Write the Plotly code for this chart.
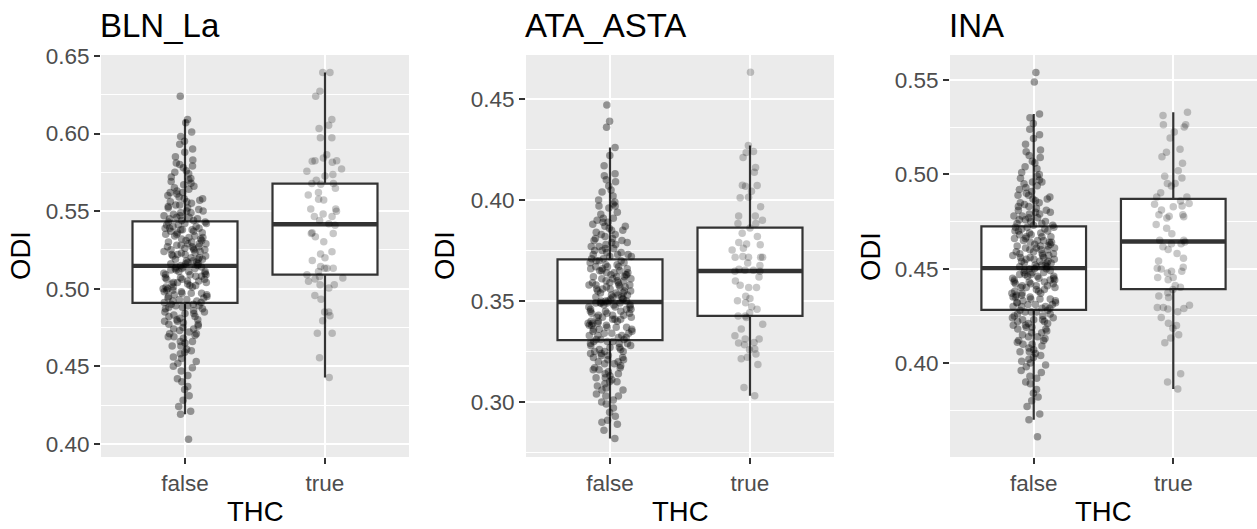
import plotly.graph_objects as go

# ---------------------------------------------------------------- data
PANELS = ["BLN_La", "ATA_ASTA", "INA"]
CATEGORIES = ["false", "true"]
X_TITLE = "THC"
Y_TITLE = "ODI"

BLN_FALSE = [
    0.403, 0.419, 0.421, 0.424, 0.428, 0.431, 0.435, 0.437,
    0.440, 0.442, 0.444, 0.447, 0.449,
    0.450, 0.452, 0.453, 0.455, 0.456, 0.458, 0.459,
    0.460, 0.461, 0.463, 0.463, 0.465, 0.466, 0.466, 0.468, 0.469, 0.469,
    0.470, 0.471, 0.471, 0.472, 0.473, 0.474, 0.474, 0.475, 0.476, 0.477,
    0.477, 0.478, 0.479, 0.479,
    0.480, 0.480, 0.481, 0.482, 0.482, 0.483, 0.484, 0.484, 0.485, 0.485,
    0.486, 0.487, 0.487, 0.488, 0.488, 0.489, 0.489, 0.489,
    0.490, 0.490, 0.491, 0.491, 0.492, 0.492, 0.493, 0.493, 0.494, 0.494,
    0.495, 0.495, 0.496, 0.496, 0.497, 0.497, 0.497, 0.498, 0.498, 0.499, 0.499,
    0.500, 0.500, 0.501, 0.501, 0.501, 0.502, 0.502, 0.503, 0.503, 0.504,
    0.504, 0.504, 0.505, 0.505, 0.506, 0.506, 0.506, 0.507, 0.507, 0.508,
    0.508, 0.509, 0.509, 0.509,
    0.510, 0.510, 0.511, 0.511, 0.511, 0.512, 0.512, 0.513, 0.513, 0.513,
    0.514, 0.514, 0.514, 0.515, 0.515, 0.516, 0.516, 0.516, 0.517, 0.517,
    0.518, 0.518, 0.519, 0.519, 0.519,
    0.520, 0.520, 0.521, 0.521, 0.522, 0.522, 0.522, 0.523, 0.523, 0.524,
    0.524, 0.525, 0.525, 0.525, 0.526, 0.526, 0.527, 0.527, 0.527, 0.528,
    0.528, 0.529, 0.529, 0.529,
    0.530, 0.530, 0.531, 0.531, 0.532, 0.532, 0.533, 0.533, 0.534, 0.534,
    0.535, 0.535, 0.536, 0.536, 0.537, 0.537, 0.538, 0.538, 0.538, 0.539,
    0.539, 0.539,
    0.540, 0.540, 0.541, 0.541, 0.542, 0.542, 0.543, 0.543, 0.544, 0.544,
    0.545, 0.545, 0.546, 0.546, 0.547, 0.547, 0.548, 0.549, 0.549,
    0.550, 0.550, 0.551, 0.552, 0.552, 0.553, 0.554, 0.554, 0.555, 0.556,
    0.556, 0.557, 0.558, 0.558, 0.559,
    0.560, 0.561, 0.562, 0.562, 0.563, 0.564, 0.565, 0.566, 0.567, 0.568, 0.569,
    0.570, 0.571, 0.572, 0.574, 0.575, 0.576, 0.578, 0.579,
    0.580, 0.581, 0.583, 0.585, 0.588,
    0.590, 0.593, 0.595, 0.598,
    0.601, 0.607, 0.609, 0.624,
]
BLN_TRUE = [
    0.6393, 0.6393, 0.6272, 0.6240, 0.6090, 0.6054, 0.6033, 0.5973, 0.5973,
    0.5863, 0.5842, 0.5825, 0.5825, 0.5821, 0.5815, 0.5772, 0.5757, 0.5736,
    0.5726, 0.5698, 0.5677, 0.5677, 0.5673, 0.5647, 0.5620, 0.5603, 0.5577,
    0.5571, 0.5514, 0.5514, 0.5499, 0.5482, 0.5465, 0.5465, 0.5440, 0.5418,
    0.5408, 0.5361, 0.5355, 0.5355, 0.5334, 0.5302, 0.5238, 0.5223, 0.5200,
    0.5181, 0.5143, 0.5132, 0.5132, 0.5132, 0.5111, 0.5090, 0.5079, 0.5069,
    0.5062, 0.5047, 0.5026, 0.5026, 0.5005, 0.4956, 0.4931, 0.4850, 0.4850,
    0.4825, 0.4793, 0.4713, 0.4713, 0.4554, 0.4427,
]

ATA_FALSE = [
    0.282, 0.286, 0.289,
    0.290, 0.291, 0.293, 0.295, 0.297, 0.299,
    0.300, 0.301, 0.303, 0.303, 0.304, 0.306, 0.306, 0.307, 0.308, 0.309,
    0.310, 0.310, 0.311, 0.312, 0.312, 0.313, 0.314, 0.314, 0.315, 0.316,
    0.316, 0.317, 0.317, 0.318, 0.319, 0.319,
    0.320, 0.320, 0.321, 0.321, 0.322, 0.322, 0.323, 0.323, 0.324, 0.324,
    0.325, 0.325, 0.325, 0.326, 0.326, 0.327, 0.327, 0.328, 0.328, 0.329,
    0.329, 0.329,
    0.330, 0.330, 0.330, 0.331, 0.331, 0.331, 0.332, 0.332, 0.333, 0.333,
    0.333, 0.334, 0.334, 0.334, 0.335, 0.335, 0.336, 0.336, 0.336, 0.337,
    0.337, 0.337, 0.338, 0.338, 0.338, 0.339, 0.339, 0.339,
    0.340, 0.340, 0.340, 0.341, 0.341, 0.341, 0.342, 0.342, 0.342, 0.343,
    0.343, 0.343, 0.344, 0.344, 0.344, 0.345, 0.345, 0.345, 0.346, 0.346,
    0.346, 0.347, 0.347, 0.347, 0.348, 0.348, 0.348, 0.349, 0.349, 0.349,
    0.349, 0.349,
    0.350, 0.350, 0.350, 0.350, 0.351, 0.351, 0.351, 0.352, 0.352, 0.352,
    0.353, 0.353, 0.353, 0.354, 0.354, 0.354, 0.355, 0.355, 0.355, 0.356,
    0.356, 0.356, 0.357, 0.357, 0.357, 0.358, 0.358, 0.358, 0.358, 0.359,
    0.359, 0.359,
    0.360, 0.360, 0.360, 0.361, 0.361, 0.361, 0.362, 0.362, 0.362, 0.363,
    0.363, 0.363, 0.364, 0.364, 0.364, 0.365, 0.365, 0.365, 0.366, 0.366,
    0.366, 0.367, 0.367, 0.367, 0.368, 0.368, 0.369, 0.369,
    0.370, 0.370, 0.370, 0.371, 0.371, 0.372, 0.372, 0.373, 0.373, 0.373,
    0.374, 0.374, 0.375, 0.375, 0.376, 0.376, 0.377, 0.377, 0.378, 0.378,
    0.379, 0.379,
    0.380, 0.380, 0.381, 0.381, 0.382, 0.383, 0.383, 0.384, 0.385, 0.385,
    0.386, 0.387, 0.387, 0.388, 0.389, 0.389,
    0.390, 0.391, 0.391, 0.393, 0.394, 0.396, 0.397, 0.397, 0.398, 0.399,
    0.400, 0.402, 0.404, 0.405, 0.407, 0.409,
    0.410, 0.412, 0.413, 0.417, 0.422, 0.426,
    0.436, 0.439, 0.447,
]
ATA_TRUE = [
    0.4632, 0.4270, 0.4240, 0.4235, 0.4210, 0.4161, 0.4137, 0.4073, 0.4072,
    0.4068, 0.4044, 0.4014, 0.4011, 0.3967, 0.3921, 0.3921, 0.3900, 0.3884,
    0.3884, 0.3861, 0.3836, 0.3820, 0.3790, 0.3782, 0.3779, 0.3761, 0.3753,
    0.3721, 0.3717, 0.3717, 0.3717, 0.3717, 0.3688, 0.3676, 0.3657, 0.3652,
    0.3647, 0.3652, 0.3647, 0.3619, 0.3599, 0.3578, 0.3567, 0.3567, 0.3524,
    0.3513, 0.3501, 0.3491, 0.3472, 0.3460, 0.3442, 0.3426, 0.3418, 0.3426,
    0.3385, 0.3362, 0.3328, 0.3312, 0.3312, 0.3295, 0.3292, 0.3284, 0.3263,
    0.3259, 0.3238, 0.3222, 0.3214, 0.3186, 0.3072, 0.3031,
]

INA_FALSE = [
    0.361, 0.370, 0.373, 0.377,
    0.380, 0.382, 0.384, 0.386, 0.389,
    0.390, 0.392, 0.393, 0.395, 0.396, 0.398, 0.399,
    0.400, 0.401, 0.402, 0.403, 0.404, 0.405, 0.406, 0.406, 0.407, 0.408, 0.409,
    0.410, 0.410, 0.411, 0.412, 0.412, 0.413, 0.414, 0.414, 0.415, 0.416,
    0.416, 0.417, 0.418, 0.418, 0.419, 0.419,
    0.420, 0.420, 0.421, 0.421, 0.422, 0.422, 0.423, 0.423, 0.423, 0.424,
    0.424, 0.425, 0.425, 0.426, 0.426, 0.427, 0.427, 0.427, 0.428, 0.428,
    0.429, 0.429,
    0.430, 0.430, 0.430, 0.431, 0.431, 0.431, 0.432, 0.432, 0.432, 0.433,
    0.433, 0.434, 0.434, 0.434, 0.435, 0.435, 0.435, 0.436, 0.436, 0.437,
    0.437, 0.437, 0.438, 0.438, 0.439, 0.439,
    0.440, 0.440, 0.440, 0.441, 0.441, 0.441, 0.442, 0.442, 0.442, 0.443,
    0.443, 0.443, 0.444, 0.444, 0.444, 0.445, 0.445, 0.445, 0.446, 0.446,
    0.446, 0.447, 0.447, 0.447, 0.448, 0.448, 0.448, 0.449, 0.449,
    0.450, 0.450, 0.450, 0.451, 0.451, 0.451, 0.452, 0.452, 0.452, 0.453,
    0.453, 0.453, 0.454, 0.454, 0.454, 0.455, 0.455, 0.455, 0.456, 0.456,
    0.456, 0.457, 0.457, 0.457, 0.458, 0.458, 0.458, 0.459, 0.459,
    0.460, 0.460, 0.460, 0.461, 0.461, 0.461, 0.462, 0.462, 0.462, 0.463,
    0.463, 0.464, 0.464, 0.464, 0.465, 0.465, 0.465, 0.466, 0.466, 0.467,
    0.467, 0.467, 0.468, 0.468, 0.469, 0.469,
    0.470, 0.470, 0.470, 0.471, 0.471, 0.472, 0.472, 0.472, 0.473, 0.473,
    0.474, 0.474, 0.475, 0.475, 0.476, 0.476, 0.477, 0.477, 0.478, 0.478,
    0.479, 0.479,
    0.480, 0.480, 0.481, 0.481, 0.482, 0.483, 0.483, 0.484, 0.485, 0.485,
    0.486, 0.487, 0.487, 0.488, 0.489, 0.489,
    0.490, 0.491, 0.492, 0.493, 0.494, 0.495, 0.496, 0.496, 0.497, 0.498, 0.499,
    0.500, 0.501, 0.503, 0.504, 0.506, 0.507, 0.509,
    0.510, 0.512, 0.513, 0.516, 0.519,
    0.521, 0.524, 0.527, 0.530, 0.532,
    0.549, 0.554,
]
INA_TRUE = [
    0.5330, 0.5312, 0.5263, 0.5263, 0.5251, 0.5225, 0.5193, 0.5134, 0.5117,
    0.5094, 0.5059, 0.5019, 0.4990, 0.4981, 0.4952, 0.4952, 0.4938, 0.4903,
    0.4880, 0.4880, 0.4859, 0.4846, 0.4842, 0.4833, 0.4828, 0.4811, 0.4786,
    0.4786, 0.4778, 0.4776, 0.4769, 0.4734, 0.4715, 0.4686, 0.4651, 0.4651,
    0.4642, 0.4633, 0.4633, 0.4616, 0.4602, 0.4581, 0.4555, 0.4541, 0.4508,
    0.4498, 0.4503, 0.4486, 0.4486, 0.4477, 0.4454, 0.4454, 0.4442, 0.4411,
    0.4402, 0.4390, 0.4373, 0.4347, 0.4355, 0.4306, 0.4294, 0.4294, 0.4286,
    0.4289, 0.4272, 0.4242, 0.4211, 0.4199, 0.4185, 0.4150, 0.4133, 0.4108,
    0.3943, 0.3900, 0.3863,
]

POINTS = [[BLN_FALSE, BLN_TRUE], [ATA_FALSE, ATA_TRUE], [INA_FALSE, INA_TRUE]]

# box statistics per panel, [false, true]
Q1 = [[0.4909, 0.5090], [0.3307, 0.3427], [0.4282, 0.4392]]
MEDIAN = [[0.5147, 0.5415], [0.3495, 0.3649], [0.4503, 0.4644]]
Q3 = [[0.5434, 0.5677], [0.3706, 0.3863], [0.4725, 0.4870]]
WHISKER_LO = [[0.419, 0.4427], [0.282, 0.3031], [0.370, 0.3863]]
WHISKER_HI = [[0.609, 0.6393], [0.426, 0.4270], [0.532, 0.5330]]

Y_RANGES = [[0.3915, 0.6506], [0.2728, 0.4718], [0.3502, 0.5633]]
Y_TICKS = [
    [0.40, 0.45, 0.50, 0.55, 0.60, 0.65],
    [0.30, 0.35, 0.40, 0.45],
    [0.40, 0.45, 0.50, 0.55],
]

# ---------------------------------------------------------------- style
W, H = 1257, 529
PANEL_X_PX = [(101, 409), (526, 834), (950, 1257)]
PANEL_TOP_PX, PANEL_BOTTOM_PX = 55, 457
FONT = "Liberation Sans, Arial, Helvetica, sans-serif"
PANEL_BG = "#EBEBEB"
BOX_LINE = "#333333"
TICK_TEXT = "#4D4D4D"
BOX_WIDTH = 0.75
JITTER = 0.42
POINT_SIZE = 7.5
POINT_ALPHA = [0.38, 0.22]


def px_x(p):
    return p / W


def px_y(p):
    return 1 - p / H


fig = go.Figure()
annotations = []

for i, name in enumerate(PANELS):
    suffix = "" if i == 0 else str(i + 1)
    xa, ya = "x" + suffix, "y" + suffix
    positions = list(range(1, len(CATEGORIES) + 1))

    # box body with whiskers
    fig.add_trace(go.Box(
        x=positions, q1=Q1[i], median=MEDIAN[i], q3=Q3[i],
        lowerfence=WHISKER_LO[i], upperfence=WHISKER_HI[i],
        width=BOX_WIDTH, whiskerwidth=0, boxpoints=False,
        fillcolor="white", line=dict(color=BOX_LINE, width=2.2),
        xaxis=xa, yaxis=ya, showlegend=False, hoverinfo="skip",
    ))
    # heavier median bar
    fig.add_trace(go.Box(
        x=positions, q1=MEDIAN[i], median=MEDIAN[i], q3=MEDIAN[i],
        lowerfence=MEDIAN[i], upperfence=MEDIAN[i],
        width=BOX_WIDTH, whiskerwidth=0, boxpoints=False,
        fillcolor="rgba(0,0,0,0)", line=dict(color=BOX_LINE, width=4.4),
        xaxis=xa, yaxis=ya, showlegend=False, hoverinfo="skip",
    ))
    # jittered observations
    for j, vals in enumerate(POINTS[i]):
        fig.add_trace(go.Box(
            x0=positions[j], y=vals, boxpoints="all", jitter=JITTER, pointpos=0,
            width=BOX_WIDTH, fillcolor="rgba(0,0,0,0)",
            line=dict(color="rgba(0,0,0,0)", width=0),
            marker=dict(color=f"rgba(0,0,0,{POINT_ALPHA[j]})", size=POINT_SIZE,
                        line=dict(width=0)),
            xaxis=xa, yaxis=ya, showlegend=False, hoverinfo="y",
        ))

    x0, x1 = PANEL_X_PX[i]
    common = dict(
        showgrid=True, gridcolor="white", gridwidth=2, zeroline=False,
        showline=False, ticks="outside", ticklen=6, tickwidth=2,
        tickcolor=BOX_LINE, automargin=False,
        tickfont=dict(family=FONT, size=22.5, color=TICK_TEXT),
    )
    fig.update_layout(**{
        ("xaxis" + suffix): dict(
            domain=[px_x(x0), px_x(x1)], range=[0.4, 2.6], type="linear",
            tickmode="array", tickvals=positions, ticktext=CATEGORIES,
            anchor=ya, fixedrange=True, **common,
        ),
        ("yaxis" + suffix): dict(
            domain=[px_y(PANEL_BOTTOM_PX), px_y(PANEL_TOP_PX)],
            range=Y_RANGES[i], tickmode="array", tickvals=Y_TICKS[i],
            tickformat=".2f", anchor=xa, fixedrange=True,
            minor=dict(dtick=0.025, tick0=0, showgrid=True, gridcolor="white",
                       gridwidth=1, ticks=""),
            **common,
        ),
    })

    # panel title, axis titles
    annotations.append(dict(
        text=name, x=px_x(x0 - 3), y=px_y(25), xref="paper", yref="paper",
        xanchor="left", yanchor="middle", showarrow=False,
        font=dict(family=FONT, size=33, color="black"),
    ))
    annotations.append(dict(
        text=X_TITLE, x=px_x((x0 + x1) / 2), y=px_y(511), xref="paper",
        yref="paper", xanchor="center", yanchor="middle", showarrow=False,
        font=dict(family=FONT, size=27.5, color="black"),
    ))
    ylab_x = [21, 445, 871][i]
    annotations.append(dict(
        text=Y_TITLE, x=px_x(ylab_x), y=px_y((PANEL_TOP_PX + PANEL_BOTTOM_PX) / 2),
        xref="paper", yref="paper", xanchor="center", yanchor="middle",
        textangle=-90, showarrow=False,
        font=dict(family=FONT, size=27.5, color="black"),
    ))

fig.update_layout(
    width=W, height=H, autosize=False,
    margin=dict(l=0, r=0, t=0, b=0, pad=0, autoexpand=False),
    paper_bgcolor="white", plot_bgcolor=PANEL_BG,
    boxmode="overlay", showlegend=False,
    annotations=annotations,
)

fig.write_html("out.html")
